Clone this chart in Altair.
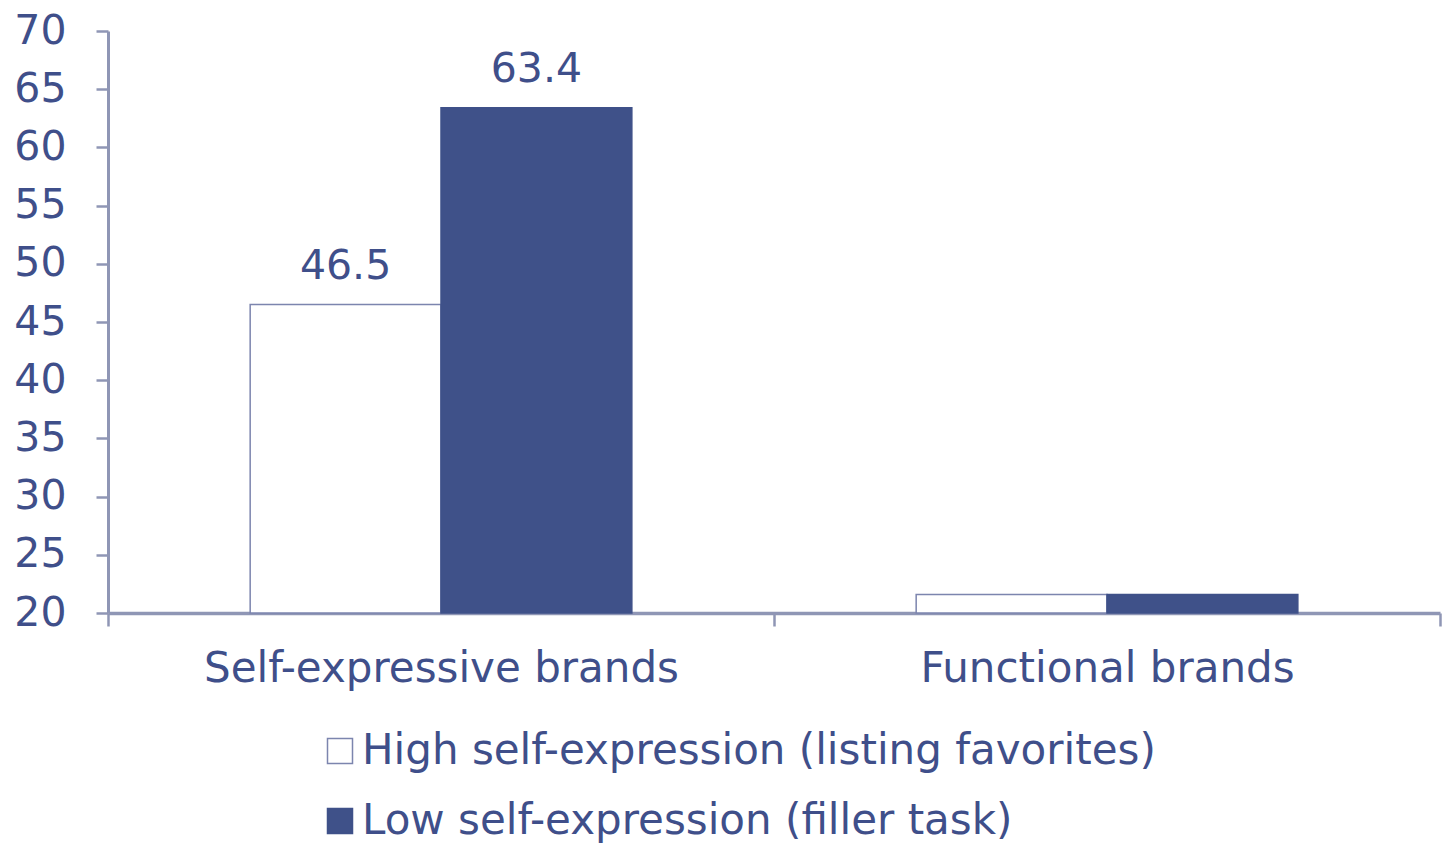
import altair as alt
import pandas as pd

categories = ["Self-expressive brands", "Functional brands"]
groups = ["High self-expression (listing favorites)", "Low self-expression (filler task)"]
high_values = [46.5, 21.6]
low_values = [63.4, 21.6]
high_labels = ["46.5", ""]
low_labels = ["63.4", ""]
y_ticks = [20, 25, 30, 35, 40, 45, 50, 55, 60, 65, 70]

rows = []
for i, c in enumerate(categories):
    rows.append({"category": c, "group": groups[0], "value": high_values[i], "label": high_labels[i]})
    rows.append({"category": c, "group": groups[1], "value": low_values[i], "label": low_labels[i]})
df = pd.DataFrame(rows)

TEXT = "#3F4F8A"
BAR = "#3F5189"
AXIS = "#8F96B5"
FONT = "DejaVu Sans"

x = alt.X("category:N", sort=categories,
          scale=alt.Scale(paddingInner=0, paddingOuter=0),
          axis=alt.Axis(title=None, labelAngle=0, tickBand="extent", labelLimit=1000,
                        labelFont=FONT, labelFontSize=42, labelColor=TEXT,
                        labelPadding=22, tickSize=13, tickWidth=2.5, tickColor=AXIS,
                        domainColor=AXIS, domainWidth=3.5))
xo = alt.XOffset("group:N", sort=groups,
                 scale=alt.Scale(paddingInner=0, paddingOuter=0.745))
y = alt.Y("value:Q", scale=alt.Scale(domain=[20, 70], nice=False, zero=False),
          axis=alt.Axis(title=None, values=y_ticks, grid=False,
                        labelFont=FONT, labelFontSize=41, labelColor=TEXT,
                        labelPadding=30, tickSize=12, tickWidth=2.5, tickColor=AXIS,
                        domainColor=AXIS, domainWidth=3))

bars = alt.Chart(df).mark_bar(strokeWidth=1.5).encode(
    x=x, xOffset=xo, y=y, y2=alt.datum(20),
    fill=alt.Fill("group:N", sort=groups,
                  scale=alt.Scale(domain=groups, range=["#FFFFFF", BAR]),
                  legend=alt.Legend(title=None, orient="none", legendX=211, legendY=699,
                                    direction="vertical", symbolType="square",
                                    symbolSize=625, symbolStrokeColor=AXIS,
                                    symbolStrokeWidth=1.5, labelFont=FONT,
                                    labelFontSize=42, labelColor=TEXT, labelLimit=1000,
                                    rowPadding=28, labelOffset=1, padding=0)),
    stroke=alt.Stroke("group:N", sort=groups,
                      scale=alt.Scale(domain=groups, range=["#7C85AE", BAR]),
                      legend=None),
)

labels = alt.Chart(df).mark_text(baseline="bottom", dy=-17, font=FONT, fontSize=41,
                                 color=TEXT).encode(
    x=x, xOffset=xo, y=y, text="label:N")

chart = alt.layer(bars, labels).properties(
    width=1332, height=582,
    background="white",
    autosize=alt.AutoSizeParams(type="none"),
    padding={"left": 108, "top": 31, "right": 2, "bottom": 233},
).configure_view(stroke=None)

chart.save("out.html", embed_options={"renderer": "svg", "actions": False})
